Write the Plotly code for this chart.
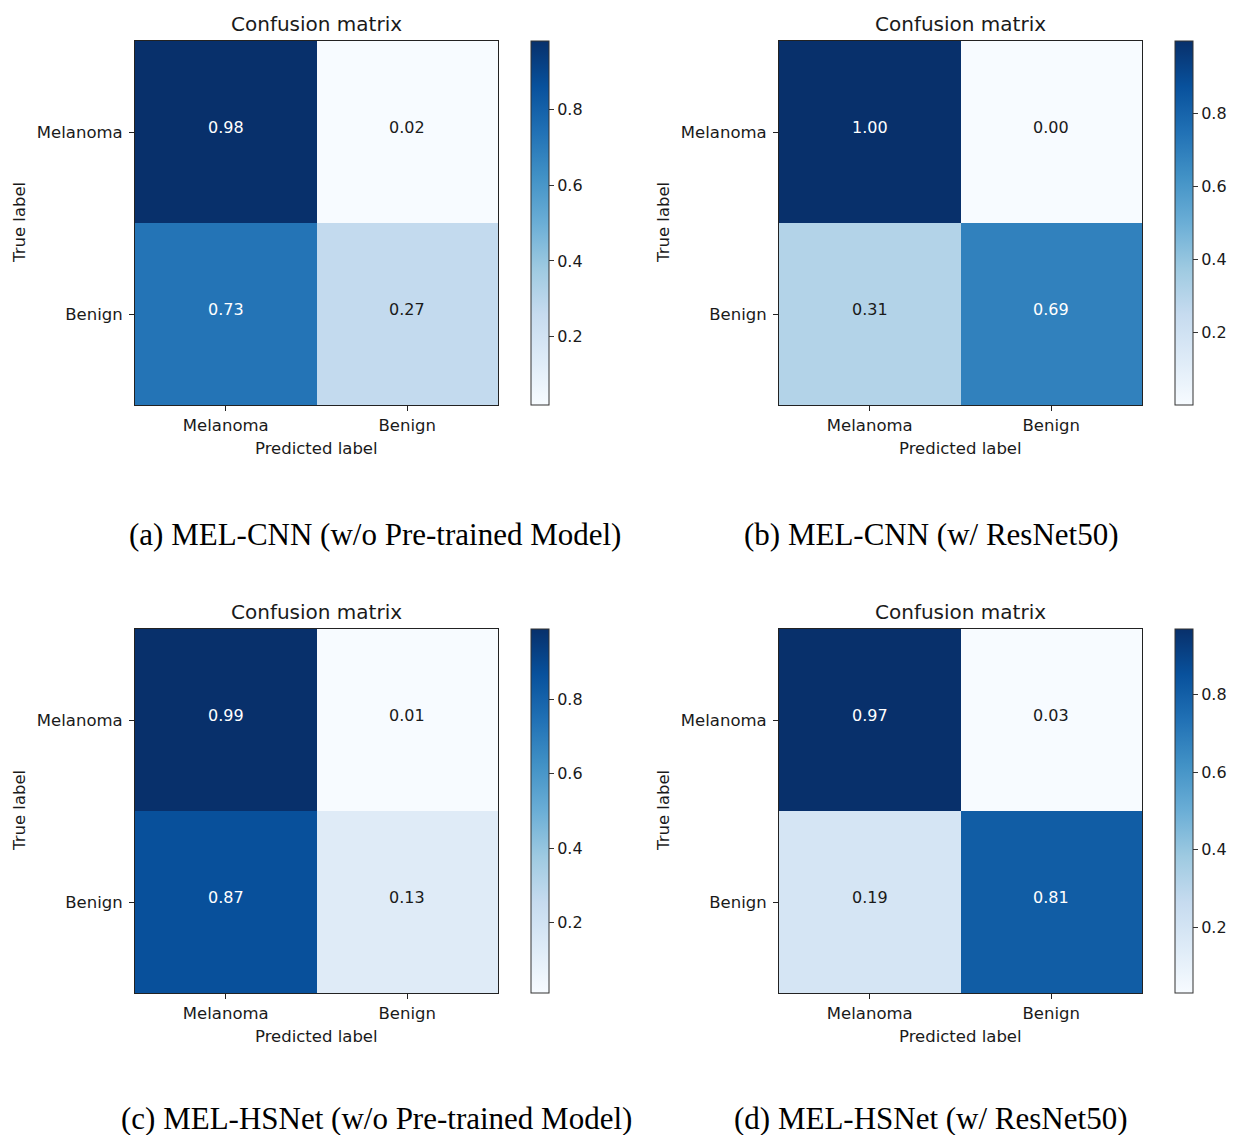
import plotly.graph_objects as go

# ---------------- data ----------------
categories = ["Melanoma", "Benign"]
cm_a = [[0.98, 0.02], [0.73, 0.27]]
cm_b = [[1.00, 0.00], [0.31, 0.69]]
cm_c = [[0.99, 0.01], [0.87, 0.13]]
cm_d = [[0.97, 0.03], [0.19, 0.81]]
matrices = [cm_a, cm_b, cm_c, cm_d]
captions = [
    "(a) MEL-CNN (w/o Pre-trained Model)",
    "(b) MEL-CNN (w/ ResNet50)",
    "(c) MEL-HSNet (w/o Pre-trained Model)",
    "(d) MEL-HSNet (w/ ResNet50)",
]
cbar_ticks = [0.2, 0.4, 0.6, 0.8]
panel_title = "Confusion matrix"
x_label = "Predicted label"
y_label = "True label"

# ---------------- layout constants ----------------
W, H = 1236, 1135
# heatmap boxes in pixels: (x0, x1, y_top, y_bottom)
boxes = [(135, 498, 41, 405), (779, 1142, 41, 405),
         (135, 498, 629, 993), (779, 1142, 629, 993)]
caption_pos = [(375, 534), (931, 534), (376, 1118), (930, 1118)]

blues = [
    [0.0, "#f7fbff"], [0.125, "#deebf7"], [0.25, "#c6dbef"], [0.375, "#9ecae1"],
    [0.5, "#6baed6"], [0.625, "#4292c6"], [0.75, "#2171b5"], [0.875, "#08519c"],
    [1.0, "#08306b"],
]

SANS = "DejaVu Sans"
TXT = "#1a1a1a"

def px_x(p):
    return p / W

def px_y(p):
    return 1 - p / H

fig = go.Figure()
annotations = []
layout_axes = {}

for i, (cm, box) in enumerate(zip(matrices, boxes)):
    x0, x1, yt, yb = box
    n = i + 1
    xa = "x" if n == 1 else f"x{n}"
    ya = "y" if n == 1 else f"y{n}"
    flat = [v for row in cm for v in row]
    zmin, zmax = min(flat), max(flat)
    cb_h = yb - yt
    fig.add_trace(go.Heatmap(
        z=cm, x=categories, y=categories,
        xaxis=xa, yaxis=ya,
        colorscale=blues, zmin=zmin, zmax=zmax,
        xgap=0, ygap=0, hoverinfo="skip",
        colorbar=dict(
            x=px_x(x1 + 33), xanchor="left", xpad=0,
            y=px_y((yt + yb) / 2), yanchor="middle", ypad=0,
            len=cb_h, lenmode="pixels",
            thickness=18, thicknessmode="pixels",
            outlinewidth=1, outlinecolor="#333333",
            tickvals=cbar_ticks, ticktext=[f"{t:.1f}" for t in cbar_ticks],
            ticks="outside", ticklen=5, tickcolor="#333333",
            tickfont=dict(family=SANS, size=16, color=TXT),
        ),
    ))
    axis_common = dict(
        showline=True, mirror=True, linecolor="#222222", linewidth=1,
        ticks="outside", ticklen=5, tickcolor="#222222", tickwidth=1,
        showgrid=False, zeroline=False, fixedrange=True,
        tickfont=dict(family=SANS, size=16.5, color=TXT),
    )
    layout_axes["xaxis" if n == 1 else f"xaxis{n}"] = dict(
        axis_common, domain=[px_x(x0), px_x(x1)], anchor=ya,
        ticklabelstandoff=0,
    )
    layout_axes["yaxis" if n == 1 else f"yaxis{n}"] = dict(
        axis_common, domain=[px_y(yb), px_y(yt)], anchor=xa,
        autorange="reversed", ticklabelstandoff=3,
    )
    thresh = zmax / 2.0
    for r, row in enumerate(cm):
        for c, v in enumerate(row):
            annotations.append(dict(
                x=categories[c], y=categories[r], xref=xa, yref=ya,
                text=f"{v:.2f}", showarrow=False, yshift=5,
                font=dict(family=SANS, size=16,
                          color="white" if v > thresh else TXT),
            ))
    cx = (x0 + x1) / 2
    annotations.append(dict(
        x=px_x(cx), y=px_y(yt - 17), xref="paper", yref="paper",
        text=panel_title, showarrow=False, xanchor="center", yanchor="middle",
        font=dict(family=SANS, size=20, color=TXT),
    ))
    annotations.append(dict(
        x=px_x(cx), y=px_y(yb + 43), xref="paper", yref="paper",
        text=x_label, showarrow=False, xanchor="center", yanchor="middle",
        font=dict(family=SANS, size=16.5, color=TXT),
    ))
    annotations.append(dict(
        x=px_x(x0 - 116), y=px_y((yt + yb) / 2), xref="paper", yref="paper",
        text=y_label, showarrow=False, xanchor="center", yanchor="middle",
        textangle=-90,
        font=dict(family=SANS, size=16.5, color=TXT),
    ))
    capx, capy = caption_pos[i]
    annotations.append(dict(
        x=px_x(capx), y=px_y(capy), xref="paper", yref="paper",
        text=captions[i], showarrow=False, xanchor="center", yanchor="middle",
        font=dict(family="Liberation Serif", size=31, color="#000000"),
    ))

fig.update_layout(
    width=W, height=H,
    margin=dict(l=0, r=0, t=0, b=0),
    paper_bgcolor="white", plot_bgcolor="white",
    showlegend=False,
    annotations=annotations,
    **layout_axes,
)

fig.write_html(
    "out.html",
    config={"displayModeBar": False, "staticPlot": True},
    post_script="document.body.style.margin='0';document.body.style.padding='0';document.body.style.overflow='hidden';",
)
